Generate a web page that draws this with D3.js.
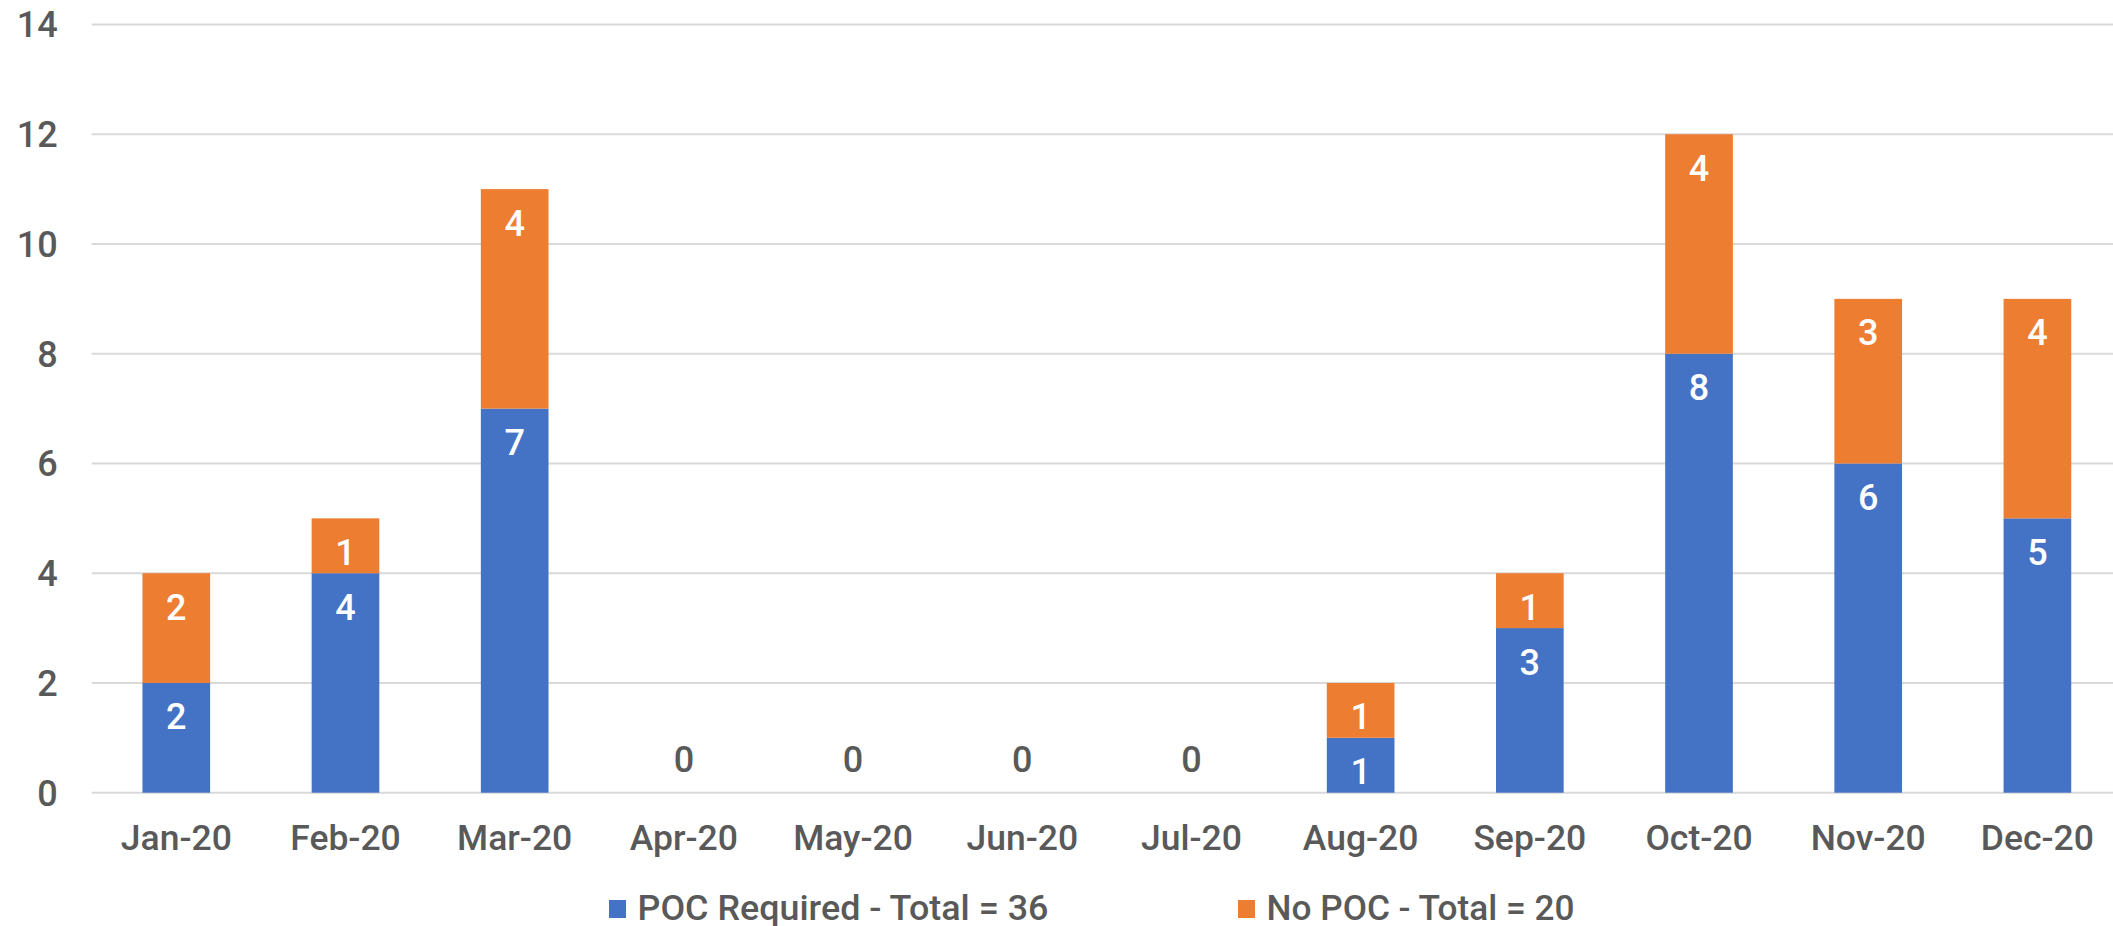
<!DOCTYPE html>
<html>
<head>
<meta charset="utf-8">
<script src="https://cdn.jsdelivr.net/npm/d3@7"></script>
<style>
  html, body { margin: 0; padding: 0; background: #ffffff; }
  svg { display: block; }
  text { font-family: Roboto, "Liberation Sans", Arial, sans-serif; font-weight: 500; }
</style>
</head>
<body>
<svg id="chart" width="2113" height="926"></svg>
<script>
// Monthly counts, 2020
const months = ["Jan-20", "Feb-20", "Mar-20", "Apr-20", "May-20", "Jun-20",
                "Jul-20", "Aug-20", "Sep-20", "Oct-20", "Nov-20", "Dec-20"];
const pocRequired = [2, 4, 7, 0, 0, 0, 0, 1, 3, 8, 6, 5];
const noPoc       = [2, 1, 4, 0, 0, 0, 0, 1, 1, 4, 3, 4];
const yTicks = [0, 2, 4, 6, 8, 10, 12, 14];
const seriesNames = ["POC Required - Total = 36", "No POC - Total = 20"];
const seriesColors = ["#4472C4", "#ED7D31"];

const svg = d3.select("#chart");
const W = 2113;
const plot = { left: 91.7, right: 2122, top: 24.5, bottom: 792.7 };

const x = d3.scaleBand()
  .domain(months)
  .range([plot.left, plot.right])
  .paddingInner(0.6)
  .paddingOuter(0.3);

const y = d3.scaleLinear()
  .domain([0, 14])
  .range([plot.bottom, plot.top]);

// Horizontal gridlines
svg.append("g")
  .selectAll("line")
  .data(yTicks)
  .join("line")
  .attr("x1", plot.left)
  .attr("x2", W)
  .attr("y1", d => y(d))
  .attr("y2", d => y(d))
  .attr("stroke", "#D9D9D9")
  .attr("stroke-width", 2);

// Y axis labels
svg.append("g")
  .selectAll("text")
  .data(yTicks)
  .join("text")
  .attr("x", 57.7)
  .attr("y", d => y(d))
  .attr("dy", "0.36em")
  .attr("text-anchor", "end")
  .attr("font-size", 36)
  .attr("fill", "#595959")
  .text(d => d);

// Stack the two series
const rows = months.map((m, i) => ({ month: m, poc: pocRequired[i], nopoc: noPoc[i] }));
const stacked = d3.stack().keys(["poc", "nopoc"])(rows);

const layers = svg.append("g")
  .selectAll("g")
  .data(stacked)
  .join("g")
  .attr("fill", (d, i) => seriesColors[i]);

layers.selectAll("rect")
  .data(d => d.filter(s => s[1] - s[0] > 0))
  .join("rect")
  .attr("x", d => x(d.data.month))
  .attr("width", x.bandwidth())
  .attr("y", d => y(d[1]))
  .attr("height", d => y(d[0]) - y(d[1]));

// Value labels, placed just inside the top of each segment
const labelOffset = 33.5;
const labels = svg.append("g");
stacked.forEach(layer => {
  layer.forEach(seg => {
    const v = seg[1] - seg[0];
    if (v > 0) {
      labels.append("text")
        .attr("x", x(seg.data.month) + x.bandwidth() / 2)
        .attr("y", y(seg[1]) + labelOffset)
        .attr("dy", "0.36em")
        .attr("text-anchor", "middle")
        .attr("font-size", 36)
        .attr("fill", "#ffffff")
        .text(v);
    }
  });
});

// Months with no entries show a single zero above the baseline
rows.filter(r => r.poc + r.nopoc === 0).forEach(r => {
  labels.append("text")
    .attr("x", x(r.month) + x.bandwidth() / 2)
    .attr("y", y(0) - labelOffset)
    .attr("dy", "0.36em")
    .attr("text-anchor", "middle")
    .attr("font-size", 36)
    .attr("fill", "#595959")
    .text(r.poc);
});

// Month labels
svg.append("g")
  .selectAll("text")
  .data(months)
  .join("text")
  .attr("x", d => x(d) + x.bandwidth() / 2)
  .attr("y", 850)
  .attr("text-anchor", "middle")
  .attr("font-size", 35.5)
  .attr("fill", "#595959")
  .text(d => d);

// Legend
const legendItems = [
  { name: seriesNames[0], color: seriesColors[0], x: 609, width: 411 },
  { name: seriesNames[1], color: seriesColors[1], x: 1238, width: 308 }
];
const legend = svg.append("g");
legendItems.forEach(item => {
  legend.append("rect")
    .attr("x", item.x)
    .attr("y", 900)
    .attr("width", 17)
    .attr("height", 18)
    .attr("fill", item.color);
  legend.append("text")
    .attr("x", item.x + 28.5)
    .attr("y", 920)
    .attr("font-size", 35)
    .attr("fill", "#595959")
    .attr("textLength", item.width)
    .attr("lengthAdjust", "spacingAndGlyphs")
    .text(item.name);
});
</script>
</body>
</html>
